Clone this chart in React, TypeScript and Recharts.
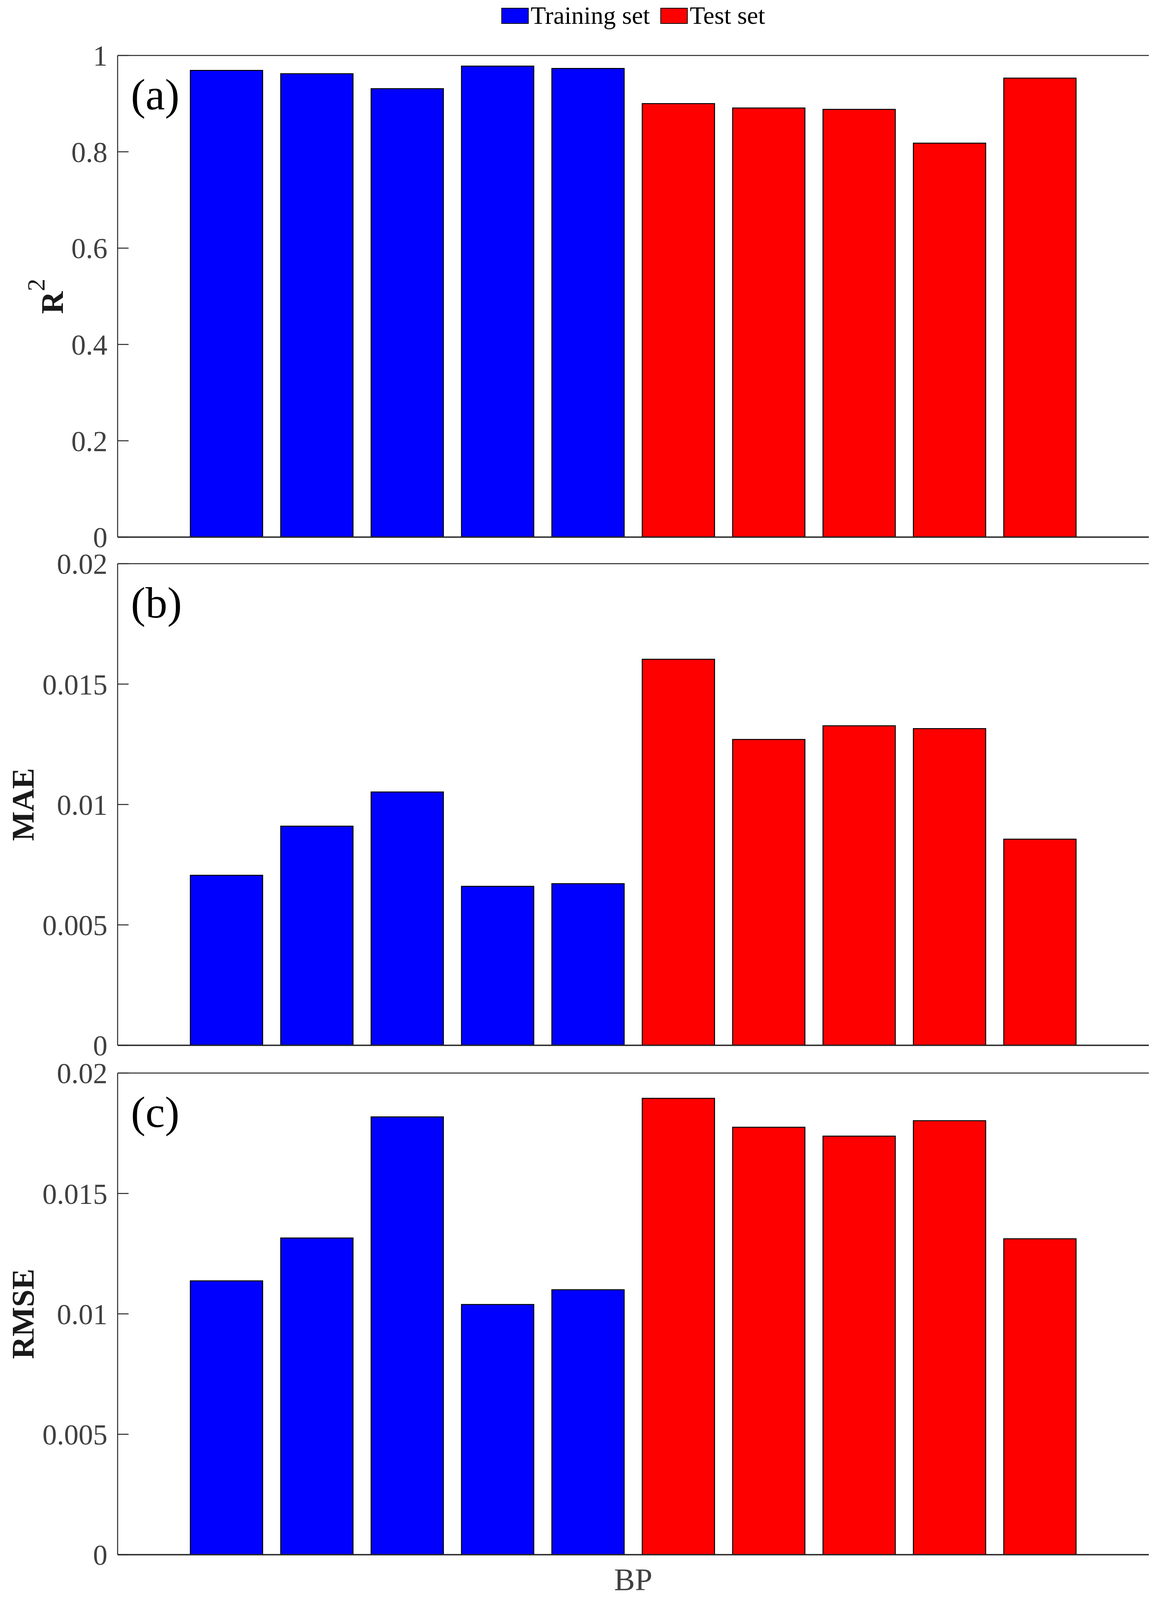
import React from 'react';
import { BarChart, Bar, XAxis, YAxis, Legend, ReferenceLine, Label } from 'recharts';

// bars, left to right (5 training + 5 test)
const categories = ['BP-1', 'BP-2', 'BP-3', 'BP-4', 'BP-5', 'BP-6', 'BP-7', 'BP-8', 'BP-9', 'BP-10'];
const seriesNames = ['Training set', 'Test set'];

const trainR2 = [0.969, 0.962, 0.931, 0.978, 0.973];
const testR2 = [0.9, 0.891, 0.888, 0.818, 0.953];

const trainMAE = [0.00706, 0.0091, 0.01052, 0.0066, 0.00671];
const testMAE = [0.01603, 0.0127, 0.01327, 0.01315, 0.00856];

const trainRMSE = [0.01137, 0.01315, 0.01818, 0.01039, 0.011];
const testRMSE = [0.01895, 0.01775, 0.01738, 0.01802, 0.01312];

const r2Ticks = [0, 0.2, 0.4, 0.6, 0.8, 1];
const errTicks = [0, 0.005, 0.01, 0.015, 0.02];

const FONT = '"Liberation Serif", "Times New Roman", serif';
const AXIS = '#262626';
const BLUE = '#0000ff';
const RED = '#ff0000';

// the photographed area is a bit shorter than the window, so the figure is laid out in 4096px
const PAGE_H = 4096;
const PLOT_H = 1233;
const PLOT_LEFT = 301;
const PLOT_W = 2639;

const buildRows = (train: number[], test: number[]) =>
  categories.map((name, i) => ({
    name,
    train: i < train.length ? train[i] : null,
    test: i >= train.length ? test[i - train.length] : null,
  }));

const yTitle = (text: string, cx: number, sup?: string) => (props: any) => {
  const vb = props.viewBox;
  const cy = vb.y + vb.height / 2;
  return (
    <text
      x={cx}
      y={cy}
      transform={`rotate(-90, ${cx}, ${cy})`}
      textAnchor="middle"
      dominantBaseline="central"
      fill="#1a1a1a"
      fontFamily={FONT}
      fontSize={80}
      fontWeight="bold"
    >
      {text}
      {sup ? (
        <tspan dy={-42} fontSize={64} fontWeight="normal">
          {sup}
        </tspan>
      ) : null}
    </text>
  );
};

const xTitle = (props: any) => {
  const vb = props.viewBox;
  return (
    <text x={vb.x + vb.width / 2} y={vb.y + 91} textAnchor="middle" fill="#404040" fontFamily={FONT} fontSize={80}>
      BP
    </text>
  );
};

// right-hand axis only shows inward tick marks
const noLabel = () => <g />;

const renderLegend = (props: any) => {
  const items = [...(props.payload || [])].sort(
    (a: any, b: any) => seriesNames.indexOf(a.value) - seriesNames.indexOf(b.value)
  );
  return (
    <div
      style={{
        position: 'absolute',
        left: 0,
        top: 0,
        width: PLOT_W,
        textAlign: 'center',
        fontFamily: FONT,
        fontSize: 64,
        lineHeight: 1,
        color: '#000',
        whiteSpace: 'nowrap',
      }}
    >
      {items.map((item: any, i: number) => (
        <span key={item.value} style={{ marginLeft: i === 0 ? 0 : 27 }}>
          <span
            style={{
              display: 'inline-block',
              width: 66,
              height: 37,
              background: item.color,
              border: '2.5px solid #000',
              marginRight: 5,
            }}
          />
          {item.value}
        </span>
      ))}
    </div>
  );
};

interface PanelProps {
  rows: any[];
  ticks: number[];
  title: string;
  sup?: string;
  titleX: number;
  letter: string;
  top: number;
  marginTop: number;
  xAxisHeight: number;
  legend?: boolean;
  xLabel?: boolean;
}

// one framed bar panel; neighbouring panels overlap a little so that tick labels are never clipped
const Panel: React.FC<PanelProps> = ({ rows, ticks, title, sup, titleX, letter, top, marginTop, xAxisHeight, legend, xLabel }) => {
  const max = ticks[ticks.length - 1];
  const height = marginTop + PLOT_H + xAxisHeight;
  return (
    <div style={{ position: 'absolute', left: 0, top, width: 2984, height, pointerEvents: 'none' }}>
      <BarChart
        width={2984}
        height={height}
        data={rows}
        margin={{ top: marginTop, right: 2984 - PLOT_LEFT - PLOT_W, bottom: 0, left: 0 }}
        barCategoryGap="10%"
      >
        <XAxis
          dataKey="name"
          tick={false}
          tickLine={false}
          axisLine={{ stroke: AXIS, strokeWidth: 3.5 }}
          height={xAxisHeight}
          padding={{ left: 163, right: 163 }}
          label={xLabel ? <Label content={xTitle} /> : undefined}
        />
        <YAxis
          domain={[0, max]}
          ticks={ticks}
          interval={0}
          allowDataOverflow
          width={PLOT_LEFT}
          tickSize={-28}
          tickMargin={54}
          axisLine={{ stroke: AXIS, strokeWidth: 2.5 }}
          tickLine={{ stroke: AXIS, strokeWidth: 2.5 }}
          tick={{ fill: '#404040', fontSize: 74, fontFamily: FONT }}
          label={<Label content={yTitle(title, titleX, sup)} />}
        />
        <YAxis
          yAxisId="right"
          orientation="right"
          domain={[0, max]}
          ticks={ticks}
          interval={0}
          allowDataOverflow
          width={0}
          tickSize={-28}
          tick={noLabel}
          axisLine={{ stroke: AXIS, strokeWidth: 2.5 }}
          tickLine={{ stroke: AXIS, strokeWidth: 2.5 }}
        />
        <ReferenceLine y={max} stroke={AXIS} strokeWidth={2.5} />
        {legend ? (
          <Legend
            layout="horizontal"
            verticalAlign="middle"
            align="center"
            wrapperStyle={{ top: 8, left: PLOT_LEFT, width: PLOT_W, height: 64 }}
            content={renderLegend}
          />
        ) : null}
        <Bar dataKey="train" name={seriesNames[0]} stackId="s" fill={BLUE} stroke="#000" strokeWidth={2.5} isAnimationActive={false} />
        <Bar dataKey="test" name={seriesNames[1]} stackId="s" fill={RED} stroke="#000" strokeWidth={2.5} isAnimationActive={false} />
      </BarChart>
      <div
        style={{
          position: 'absolute',
          left: 335,
          top: marginTop + 44,
          fontFamily: FONT,
          fontSize: 112,
          lineHeight: 1,
          color: '#000',
        }}
      >
        {letter}
      </div>
    </div>
  );
};

export default function App() {
  return (
    <div style={{ position: 'absolute', left: 0, top: 0, width: 2984, height: PAGE_H, background: '#fff', overflow: 'hidden' }}>
      <Panel
        rows={buildRows(trainR2, testR2)}
        ticks={r2Ticks}
        title="R"
        sup="2"
        titleX={134}
        letter="(a)"
        top={0}
        marginTop={142}
        xAxisHeight={70}
        legend
      />
      <Panel
        rows={buildRows(trainMAE, testMAE)}
        ticks={errTicks}
        title="MAE"
        titleX={59}
        letter="(b)"
        top={1380}
        marginTop={63}
        xAxisHeight={70}
      />
      <Panel
        rows={buildRows(trainRMSE, testRMSE)}
        ticks={errTicks}
        title="RMSE"
        titleX={59}
        letter="(c)"
        top={2680}
        marginTop={67}
        xAxisHeight={116}
        xLabel
      />
    </div>
  );
}
